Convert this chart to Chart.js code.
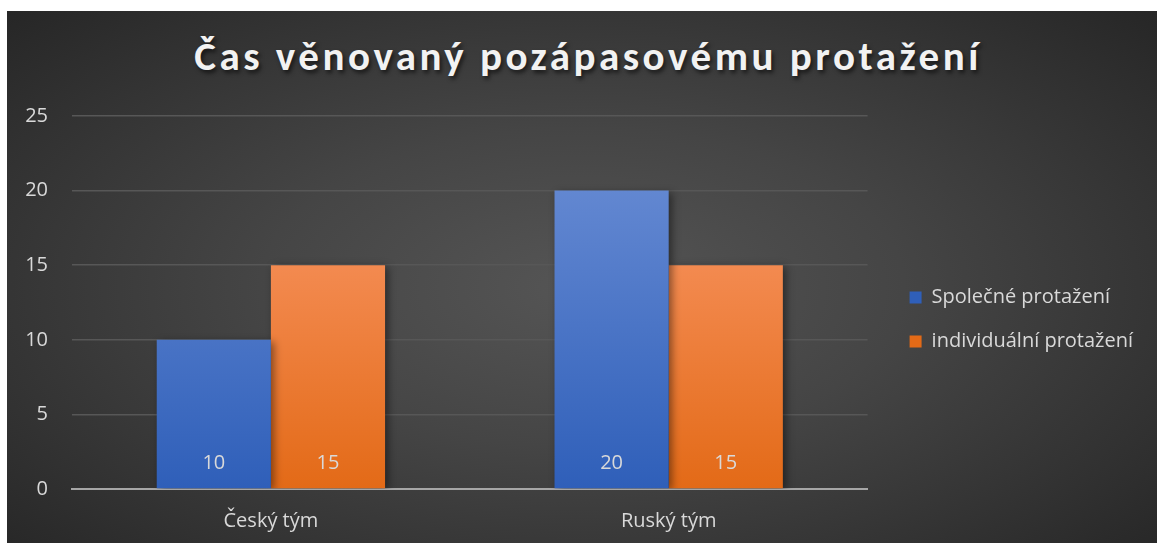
<!DOCTYPE html>
<html lang="cs">
<head>
<meta charset="utf-8">
<script src="https://cdn.jsdelivr.net/npm/chart.js@4.4.1/dist/chart.umd.min.js"></script>
<style>
    html, body { margin: 0; padding: 0; background: #ffffff; }
    #wrap {
        position: absolute;
        left: 7px; top: 11px;
        width: 1150px; height: 532px;
        background: radial-gradient(ellipse 70% 75% at 50% 52%, #555555 0%, #454545 40%, #262626 100%);
        overflow: hidden;
    }
    #title {
        position: absolute;
        left: 0; right: 0; top: 20px;
        padding-left: 12px;
        text-align: center;
        font-family: Carlito, Lato, sans-serif;
        font-weight: bold;
        font-size: 41px;
        letter-spacing: 3.5px;
        color: #f2f2f2;
        text-shadow: 2px 3px 4px rgba(0, 0, 0, 0.6);
    }
    #chart { position: absolute; left: 0; top: 0; }
</style>
</head>
<body>
<div id="wrap">
    <div id="title">Čas věnovaný pozápasovému protažení</div>
    <canvas id="chart" width="1150" height="552"></canvas>
</div>
<script>
    const categories = ['Český tým', 'Ruský tým'];
    const seriesNames = ['Společné protažení', 'individuální protažení'];
    const spolecne = [10, 20];
    const individualni = [15, 15];
    const yTicks = [0, 5, 10, 15, 20, 25];

    const fontFamily = '"Open Sans", sans-serif';
    const fontSize = 20;
    const textColor = '#d9d9d9';

    // top / bottom colours of the vertical bar gradients
    const barColors = [
        ['#6287d1', '#2f5fb9'],
        ['#f38a50', '#e36a17']
    ];

    // give every bar its own top-to-bottom gradient once its position is known
    const barGradients = {
        id: 'barGradients',
        beforeDatasetsDraw(chart) {
            const ctx = chart.ctx;
            chart.data.datasets.forEach((ds, i) => {
                chart.getDatasetMeta(i).data.forEach(bar => {
                    const g = ctx.createLinearGradient(0, bar.y, 0, bar.base);
                    g.addColorStop(0, barColors[i][0]);
                    g.addColorStop(1, barColors[i][1]);
                    bar.options.backgroundColor = g;
                });
            });
            ctx.save();
            ctx.shadowColor = 'rgba(0,0,0,0.45)';
            ctx.shadowBlur = 8;
            ctx.shadowOffsetX = 3;
            ctx.shadowOffsetY = 2;
        },
        afterDatasetsDraw(chart) {
            chart.ctx.restore();
        }
    };

    // value labels near the bottom of each bar
    const valueLabels = {
        id: 'valueLabels',
        afterDatasetsDraw(chart) {
            const ctx = chart.ctx;
            ctx.save();
            ctx.font = fontSize + 'px ' + fontFamily;
            ctx.fillStyle = textColor;
            ctx.textAlign = 'center';
            ctx.textBaseline = 'middle';
            chart.data.datasets.forEach((ds, i) => {
                chart.getDatasetMeta(i).data.forEach((bar, j) => {
                    ctx.fillText(String(ds.data[j]), bar.x, bar.base - 25);
                });
            });
            ctx.restore();
        }
    };

    // legend sits a bit higher than the middle of the canvas
    const legendNudge = {
        id: 'legendNudge',
        afterLayout(chart) {
            chart.legend.top -= 15;
            chart.legend.bottom -= 15;
        }
    };

    new Chart(document.getElementById('chart'), {
        type: 'bar',
        data: {
            labels: categories,
            datasets: [
                { label: seriesNames[0], data: spolecne, backgroundColor: barColors[0][1] },
                { label: seriesNames[1], data: individualni, backgroundColor: barColors[1][1] }
            ]
        },
        options: {
            responsive: false,
            animation: false,
            layout: {
                padding: { top: 105, right: 14, bottom: 10, left: 0 }
            },
            datasets: {
                bar: { barPercentage: 1, categoryPercentage: 0.574 }
            },
            scales: {
                x: {
                    grid: { display: false, drawTicks: false },
                    border: { display: true, color: '#a6a6a6', width: 2 },
                    ticks: {
                        color: textColor,
                        font: { family: fontFamily, size: fontSize },
                        padding: 20
                    }
                },
                y: {
                    min: 0,
                    max: 25,
                    afterBuildTicks(scale) {
                        scale.ticks = yTicks.map(v => ({ value: v }));
                    },
                    afterFit(scale) { scale.width = 65; },
                    grid: { color: '#575757', lineWidth: 1.5, drawTicks: false },
                    border: { display: false },
                    ticks: {
                        color: textColor,
                        font: { family: fontFamily, size: fontSize },
                        padding: 24
                    }
                },
                // empty right axis, only keeps a gap between plot and legend
                gap: {
                    type: 'linear',
                    position: 'right',
                    grid: { display: false, drawTicks: false },
                    border: { display: false },
                    ticks: { display: false },
                    afterFit(scale) { scale.width = 18; }
                }
            },
            plugins: {
                title: { display: false },
                tooltip: { enabled: false },
                legend: {
                    position: 'right',
                    maxWidth: 330,
                    labels: {
                        color: textColor,
                        font: { family: fontFamily, size: fontSize },
                        boxWidth: 12,
                        boxHeight: 12,
                        padding: 24,
                        useBorderRadius: false
                    }
                }
            }
        },
        plugins: [barGradients, valueLabels, legendNudge]
    });
</script>
</body>
</html>
